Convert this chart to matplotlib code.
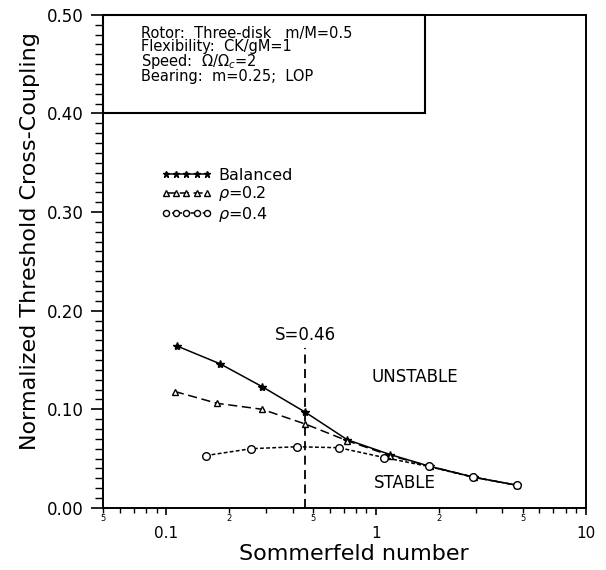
import matplotlib
matplotlib.use("Agg")
import matplotlib.pyplot as plt
import matplotlib.ticker as mticker
from matplotlib.patches import Rectangle
import numpy as np

# data
s_bal = [0.113, 0.181, 0.286, 0.46, 0.73, 1.17, 1.81, 2.94, 4.67]
k_bal = [0.164, 0.146, 0.123, 0.097, 0.069, 0.054, 0.042, 0.031, 0.023]

s_r02 = [0.110, 0.175, 0.286, 0.46, 0.73, 1.17, 1.81, 2.94, 4.67]
k_r02 = [0.118, 0.106, 0.100, 0.085, 0.068, 0.053, 0.042, 0.031, 0.023]

s_r04 = [0.154, 0.254, 0.418, 0.665, 1.096, 1.78, 2.9, 4.7]
k_r04 = [0.053, 0.060, 0.062, 0.061, 0.051, 0.042, 0.031, 0.023]

info = ["Rotor:  Three-disk   m/M=0.5",
        "Flexibility:  CK/gM=1",
        r"Speed:  $\Omega/\Omega_c$=2",
        "Bearing:  m=0.25;  LOP"]

fig = plt.figure(figsize=(6.06, 5.70), dpi=100)
ax = fig.add_axes([0.170, 0.109, 0.797, 0.865])

ax.plot(s_bal, k_bal, "k-", marker="*", ms=6, lw=1.1, label="Balanced")
ax.plot(s_r02, k_r02, "k", ls=(0, (6, 3)), marker="^", ms=5, mfc="white",
        lw=1.1, label=r"$\rho$=0.2")
ax.plot(s_r04, k_r04, "k", ls=(0, (2.5, 1.5)), marker="o", ms=5.5, mfc="white",
        lw=1.1, label=r"$\rho$=0.4")

# S = 0.46 marker
ax.plot([0.46, 0.46], [0.0, 0.162], "k", ls=(0, (5, 3)), lw=1.3)
ax.text(0.46, 0.175, "S=0.46", ha="center", va="center", fontsize=12)
ax.text(0.95, 0.133, "UNSTABLE", ha="left", va="center", fontsize=12)
ax.text(0.98, 0.025, "STABLE", ha="left", va="center", fontsize=12)

# info box
ax.add_patch(Rectangle((0, 0.8), 0.667, 0.2, transform=ax.transAxes,
                       fill=False, ec="k", lw=1.5, clip_on=False))
ax.text(0.078, 0.978, "\n".join(info), transform=ax.transAxes,
        fontsize=10.5, va="top", ha="left", linespacing=0.86)

leg = ax.legend(loc="upper left", bbox_to_anchor=(0.09, 0.719), numpoints=5,
                frameon=False, fontsize=11.5, handlelength=3.2, handletextpad=0.4,
                labelspacing=0.1, markerscale=0.8)

ax.set_xscale("log")
ax.set_xlim(0.05, 10)
ax.set_ylim(0, 0.5)

ax.xaxis.set_major_locator(mticker.FixedLocator([0.1, 1, 10]))
ax.xaxis.set_major_formatter(mticker.FixedFormatter(["0.1", "1", "10"]))
ax.xaxis.set_minor_locator(mticker.LogLocator(subs=np.arange(2, 10), numticks=20))


def minor_lab(v, pos):
    m = v / 10 ** np.floor(np.log10(v) + 1e-9)
    if abs(m - 2) < 1e-6 or abs(m - 5) < 1e-6:
        return "%d" % round(m)
    return ""


ax.xaxis.set_minor_formatter(mticker.FuncFormatter(minor_lab))

ax.yaxis.set_major_locator(mticker.MultipleLocator(0.1))
ax.yaxis.set_minor_locator(mticker.MultipleLocator(0.01))
ax.yaxis.set_major_formatter(mticker.FormatStrFormatter("%.2f"))

ax.tick_params(axis="y", which="major", direction="out", length=9, width=1.2,
               labelsize=12, pad=5)
ax.tick_params(axis="y", which="minor", direction="out", length=5.5, width=1.0)
ax.tick_params(axis="x", which="major", direction="out", length=5, width=1.2,
               labelsize=11, pad=8)
ax.tick_params(axis="x", which="minor", direction="out", length=3.5, width=1.0,
               labelsize=6, pad=1)
for sp in ax.spines.values():
    sp.set_linewidth(1.4)

ax.set_xlabel("Sommerfeld number", fontsize=16)
ax.set_ylabel("Normalized Threshold Cross-Coupling", fontsize=16)
ax.xaxis.set_label_coords(0.52, -0.073)
ax.yaxis.set_label_coords(-0.13, 0.542)

fig.savefig("out.png", dpi=100)
